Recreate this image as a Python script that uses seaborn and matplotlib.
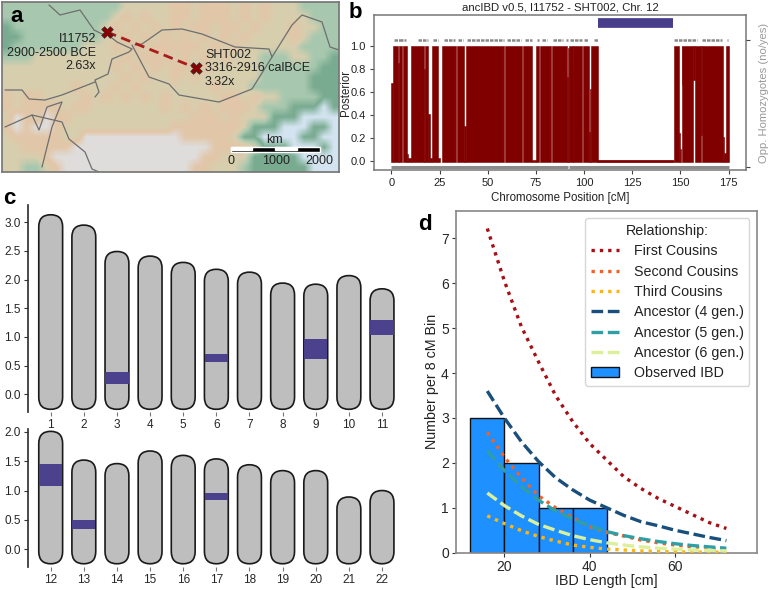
import numpy as np
import pandas as pd
import seaborn as sns
import matplotlib.pyplot as plt
from matplotlib.colors import LinearSegmentedColormap
from matplotlib.patches import FancyBboxPatch

# map (a): coarse terrain grid, 0 sea, 1 dark green, 2 pale green, 3 tan, 4 peach, 5 snow
terrain = [
    "2222222222223333344344434343332222",
    "2222222222234343344344434343333222",
    "1222222222343434343443443433343322",
    "1122222222334343434343434333343222",
    "1222222233343434444434343333332222",
    "2223333333334344434343433322233221",
    "3333333333343434344343333322222211",
    "3333333333334343343433333322222111",
    "3333333433343433333334333222222111",
    "4344333343434343433333443433222211",
    "4344443443333333434343444322211101",
    "3543544333333333333444343331110000",
    "4545543333333333344444443111000110",
    "3444443355555555554444431100001100",
    "3344444555555555555554444311100010",
    "3333455555555555555544333111110000",
    "3322345555555555555443332111111000",
]
terrain_colors = ["#d3e4f0", "#79ab91", "#a7c8ae", "#d8ceae", "#e2c6a8", "#dfdddb"]

border_north_x = [47, 58, 78, 92, 100, 105, 115, 130, 127, 110, 106, 93, 97, 93]
border_north_y = [3, 13, 8, 28, 32, 32, 40, 47, 50, 57, 72, 78, 90, 95]
border_mongolia_x = [133, 140, 160, 180, 200, 233, 267, 270, 290, 300, 320, 328, 337]
border_mongolia_y = [43, 42, 28, 27, 32, 45, 47, 55, 23, 13, 20, 45, 48]
border_south_mn_x = [130, 147, 167, 177, 217, 250, 270]
border_south_mn_y = [43, 75, 82, 93, 100, 87, 55]
border_central_x = [3, 20, 27, 43, 60, 93]
border_central_y = [88, 88, 97, 98, 93, 80]
border_tibet_x = [30, 60, 67, 83, 90, 97]
border_tibet_y = [113, 120, 137, 150, 167, 170]
border_west_x = [3, 30, 37, 45, 60, 50, 40]
border_west_y = [125, 113, 128, 105, 100, 125, 165]
sample_x = [105, 194]
sample_y = [30, 66]

# posterior (b), blocks of high/low posterior
block_start = [0, 0.9, 3.4, 3.9, 6.2, 8.3, 8.8, 10.4, 16.8, 17.3, 19.2, 20.2, 21.3, 24.4, 26.2, 33.9, 37.7, 38.8,
               58.9, 68.5, 73, 74.8, 77.2, 83.4, 91.3, 91.7, 92, 94, 94.4, 99.5, 102.3, 103, 103.8,
               146.4, 149, 149.8, 150.7, 151, 156.4, 157.4, 160.8, 161, 172.2, 172.8, 173.5]
block_end = [0.9, 3.4, 3.9, 5.7, 8.3, 8.8, 10.3, 16.8, 17.3, 19.2, 20.2, 21.2, 24.4, 25, 33.4, 37.7, 38.7, 58.6,
             67.7, 73, 74.8, 76.7, 82.7, 91.3, 91.7, 92, 94, 94.4, 99.1, 102.3, 103, 103.8, 107,
             149, 149.8, 150.4, 151, 156.4, 157.4, 160.8, 161, 172.2, 172.8, 173.5, 175]
block_high = [0.68, 1, 0.85, 1, 1, 0.06, 0.02, 1, 0.8, 1, 0.41, 0.02, 1, 0.02, 1, 1, 0.3, 1,
              1, 1, 0.01, 1, 1, 1, 0.73, 0.98, 1, 0.8, 1, 1, 0.25, 0.62, 1,
              1, 0.24, 0.1, 1, 1, 1, 1, 1, 1, 0.21, 0.07, 1]
block_low = [-0.012] * 36 + [0.66, -0.012, 0.7, -0.012, 0.22, -0.012, -0.012, -0.012, -0.012]
ibd_segment = [107, 146]
baseline_x = [107, 146]
baseline_y = [0, 0]
opp_start = [1.3, 5, 6.8, 13.9, 21.8, 27.5, 34.5, 39.5, 60.2, 69.5, 75.5, 78, 84, 90.5, 92.7, 100, 105, 146.6, 161, 174.2]
opp_end = [6, 5.8, 7.4, 18.9, 24.4, 33.1, 37.4, 58.2, 67.5, 73, 76.4, 80.7, 89.2, 91.5, 98.8, 101.8, 107, 158.5, 171.3, 174.8]
hom_start = [0, 92]
hom_end = [91.6, 175]

# chromosomes (c)
chrom_top = [3.13, 2.95, 2.49, 2.41, 2.30, 2.18, 2.13, 1.94, 1.92, 2.07, 1.84]
chrom_bottom = [2.01, 1.52, 1.46, 1.675, 1.60, 1.54, 1.44, 1.34, 1.34, 0.89, 1.00]
ibd_chr = [3, 6, 9, 11, 12, 13, 17]
ibd_from = [0.186, 0.57, 0.62, 1.04, 1.07, 0.34, 0.83]
ibd_to = [0.395, 0.70, 0.97, 1.30, 1.46, 0.50, 0.95]

# histogram (d)
bin_edges = [12, 20, 28, 36, 44]
bin_mid = [16, 24, 32, 40]
bin_count = [3, 2, 1, 1]
length = [16, 20, 24, 28, 32, 36, 40, 44, 48, 52, 56, 60, 64, 68, 72]
first_cousins = [7.22, 6.05, 5.03, 4.25, 3.5, 2.92, 2.43, 2.06, 1.69, 1.43, 1.21, 1.03, 0.85, 0.67, 0.54]
second_cousins = [2.68, 2.13, 1.67, 1.27, 1.0, 0.78, 0.58, 0.45, 0.37, 0.28, 0.22, 0.17, 0.13, 0.09, 0.06]
third_cousins = [0.82, 0.65, 0.49, 0.36, 0.26, 0.17, 0.12, 0.08, 0.06, 0.04, 0.03, 0.02, 0.015, 0.01, 0.01]
ancestor_4 = [3.6, 3.0, 2.47, 2.03, 1.67, 1.4, 1.17, 1.0, 0.83, 0.69, 0.6, 0.5, 0.42, 0.34, 0.27]
ancestor_5 = [2.27, 1.83, 1.47, 1.17, 0.93, 0.75, 0.6, 0.47, 0.38, 0.31, 0.25, 0.2, 0.16, 0.13, 0.1]
ancestor_6 = [1.33, 1.05, 0.82, 0.63, 0.5, 0.38, 0.29, 0.22, 0.17, 0.13, 0.1, 0.08, 0.06, 0.05, 0.04]

sns.set_theme(style="ticks")
plt.rcParams["font.family"] = ["Liberation Sans", "DejaVu Sans"]
plt.rcParams["text.color"] = "#222222"

W, H = 768, 590
PURPLE = "#483D8B"
GRAY = "#8a8a8a"
fig = plt.figure(figsize=(W / 100, H / 100), dpi=100)


def px_axes(left, top, right, bottom):
  return fig.add_axes([left / W, 1 - bottom / H, (right - left) / W, (bottom - top) / H])


# a - map
ax = px_axes(2, 2, 339, 172)
cmap = LinearSegmentedColormap.from_list("terrain_map", terrain_colors)
grid = np.array([[int(c) for c in row[:34]] for row in terrain])
ax.imshow(grid, cmap=cmap, vmin=0, vmax=5, extent=(0, 337, 170, 0), aspect="auto", interpolation="bilinear")
for bx, by in [(border_north_x, border_north_y), (border_mongolia_x, border_mongolia_y),
               (border_south_mn_x, border_south_mn_y), (border_central_x, border_central_y),
               (border_tibet_x, border_tibet_y), (border_west_x, border_west_y)]:
  ax.plot(bx, by, color="#6e6e6e", lw=0.9)
ax.plot(sample_x, sample_y, color="#a81c1c", lw=2, ls=(0, (3.5, 2)))
ax.scatter(sample_x, sample_y, marker="X", s=70, color="#8b0000", edgecolor="#333333", lw=0.5, zorder=5)
ax.text(94, 37, "I11752", ha="right", va="center", fontsize=9)
ax.text(94, 50.5, "2900-2500 BCE", ha="right", va="center", fontsize=9)
ax.text(94, 64, "2.63x", ha="right", va="center", fontsize=9)
ax.text(203, 53, "SHT002", ha="left", va="center", fontsize=9)
ax.text(203, 66, "3316-2916 calBCE", ha="left", va="center", fontsize=9)
ax.text(203, 80, "3.32x", ha="left", va="center", fontsize=9)
ax.barh([147.5], [89.3], left=[228.7], height=5.6, color="black")
ax.barh([146.7], [21.5, 21.5], left=[228.7, 273], height=3, color="white")
ax.text(272, 144, "km", ha="center", va="bottom", fontsize=9)
for pos, lab in zip([229, 274, 317], ["0", "1000", "2000"]):
  ax.text(pos, 158.5, lab, ha="center", va="center", fontsize=9)
ax.set_xlim(0, 337)
ax.set_ylim(170, 0)
ax.set_xticks([])
ax.set_yticks([])
for s in ax.spines.values():
  s.set_color("#777777")

# b - posterior
ax = px_axes(374, 15, 746, 170)
lefts = np.array(block_start)
ax.bar(lefts, np.array(block_high) - np.array(block_low), width=np.array(block_end) - lefts,
       bottom=block_low, align="edge", color="#800000", edgecolor="#800000", lw=0.4)
sns.lineplot(x=baseline_x, y=baseline_y, color="#800000", lw=2, ax=ax)
ax.hlines(1.199, ibd_segment[0], ibd_segment[1], color=PURPLE, lw=7)
ax.hlines([1.05] * len(opp_start), opp_start, opp_end, color=GRAY, lw=1.8, ls=(0, (1.4, 0.4)))
ax.hlines([-0.05] * 2, hom_start, hom_end, color=GRAY, lw=2.2)
ax.set_xlim(-9, 184)
ax.set_ylim(-0.08, 1.267)
ax.set_xticks([0, 25, 50, 75, 100, 125, 150, 175])
ax.set_yticks([0, 0.2, 0.4, 0.6, 0.8, 1.0])
ax.tick_params(labelsize=8, length=3, width=0.8, color="#444444", pad=3, labelcolor="#222222")
ax.set_xlabel("Chromosome Position [cM]", fontsize=8.3, labelpad=2.5, color="#222222")
ax.set_ylabel("Posterior", fontsize=8.3, labelpad=-1, color="#222222")
ax.set_title("ancIBD v0.5, I11752 - SHT002, Chr. 12", fontsize=8.2, pad=3.5, color="#222222")
for s in ax.spines.values():
  s.set_color("#777777")
  s.set_linewidth(1.1)
ax2 = ax.twinx()
ax2.set_ylim(ax.get_ylim())
ax2.set_yticks([-0.05, 1.05])
ax2.set_yticklabels([])
ax2.tick_params(length=3, width=0.8, color="#444444")
ax2.set_ylabel("Opp. Homozygotes (no/yes)", fontsize=8.1, color="#999999", labelpad=3)
for s in ax2.spines.values():
  s.set_visible(False)


# c - chromosomes
def draw_chroms(ax, chroms, tops, bottom):
  for c, top in zip(chroms, tops):
    ax.add_patch(FancyBboxPatch((c - 0.36, bottom), 0.72, top - bottom,
                                boxstyle="round,pad=0,rounding_size=0.36", mutation_aspect=0.578,
                                fc="#BEBEBE", ec="#1a1a1a", lw=1.2, zorder=2))
    for ic, lo, hi in zip(ibd_chr, ibd_from, ibd_to):
      if ic == c:
        ax.bar(c, hi - lo, width=0.7, bottom=lo, color=PURPLE, lw=0, zorder=3, alpha=0.97)
  ax.set_xticks(chroms)
  ax.tick_params(axis="x", length=3, width=0.8, color="#777777", labelsize=8.5, pad=2)
  ax.tick_params(axis="y", length=3, width=0.8, color="#333333", labelsize=8.5, pad=2)
  ax.spines["top"].set_visible(False)
  ax.spines["right"].set_visible(False)
  ax.spines["bottom"].set_visible(False)
  ax.spines["left"].set_color("#333333")


ax = px_axes(27.7, 205, 400, 412)
draw_chroms(ax, list(range(1, 12)), chrom_top, -0.26)
ax.set_xlim(0.306, 11.543)
ax.set_ylim(-0.307, 3.30)
ax.set_yticks([0, 0.5, 1, 1.5, 2, 2.5, 3])
ax.set_yticklabels(["0.0", "0.5", "1.0", "1.5", "2.0", "2.5", "3.0"])

ax = px_axes(27.7, 429, 400, 566.7)
draw_chroms(ax, list(range(12, 23)), chrom_bottom, -0.25)
ax.set_xlim(11.306, 22.543)
ax.set_ylim(-0.30, 2.05)
ax.set_yticks([0, 0.5, 1, 1.5, 2])
ax.set_yticklabels(["0.0", "0.5", "1.0", "1.5", "2.0"])

# d - IBD length histogram
ax = px_axes(455.7, 211, 756.7, 552.7)
sns.histplot(x=bin_mid, weights=bin_count, bins=bin_edges, color="dodgerblue", edgecolor="#111111",
             alpha=1, lw=1, label="Observed IBD", ax=ax)
curves = [("First Cousins", first_cousins, "#a50f15", (0, (1, 1.5))),
          ("Second Cousins", second_cousins, "#f0622a", (0, (1, 1.5))),
          ("Third Cousins", third_cousins, "#fdb515", (0, (1, 1.5))),
          ("Ancestor (4 gen.)", ancestor_4, "#1a4f7c", (0, (3.5, 1.4))),
          ("Ancestor (5 gen.)", ancestor_5, "#2f9fa5", (0, (3.5, 1.4))),
          ("Ancestor (6 gen.)", ancestor_6, "#dcef9a", (0, (3.5, 1.4)))]
for name, vals, col, dash in curves:
  df = pd.DataFrame({"x": length, "y": vals})
  sns.lineplot(data=df, x="x", y="y", color=col, lw=2.4, ls=dash, label=name, ax=ax, zorder=4)
ax.set_xlim(8.6, 79.1)
ax.set_ylim(0, 7.61)
ax.set_xticks([20, 40, 60])
ax.set_yticks(range(8))
ax.tick_params(labelsize=10, length=3, width=0.8, color="#333333", pad=2)
ax.set_xlabel("IBD Length [cm]", fontsize=10.3, labelpad=0.5, color="#222222")
ax.set_ylabel("Number per 8 cM Bin", fontsize=10.3, labelpad=1, color="#222222")
for s in ax.spines.values():
  s.set_color("#888888")
  s.set_linewidth(1.2)
handles, labels = ax.get_legend_handles_labels()
order = [labels.index(c[0]) for c in curves] + [labels.index("Observed IBD")]
ax.legend([handles[i] for i in order], [labels[i] for i in order], title="Relationship:",
          fontsize=10.3, title_fontsize=10.3, loc="upper right", bbox_to_anchor=(0.9757, 0.9785),
          borderaxespad=0, handlelength=2.0, handletextpad=1.0, labelspacing=0.44, frameon=True)

# panel letters
for lab, x, y in [("a", 10, 17), ("b", 349, 12), ("c", 3, 198), ("d", 418, 224)]:
  fig.text(x / W, 1 - y / H, lab, fontsize=16, fontweight="bold", color="black", ha="left", va="center")

fig.savefig("out.png", dpi=100)
